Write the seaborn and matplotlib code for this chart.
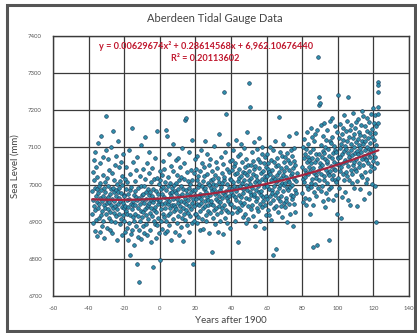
import numpy as np
import pandas as pd
import seaborn as sns
import matplotlib
matplotlib.use("Agg")
import matplotlib.pyplot as plt
from matplotlib.patches import Rectangle

# ---------------- data ----------------
title = "Aberdeen Tidal Gauge Data"
x_label = "Years after 1900"
y_label = "Sea Level (mm)"
x_ticks = [-60, -40, -20, 0, 20, 40, 60, 80, 100, 120, 140]
y_ticks = [6700, 6800, 6900, 7000, 7100, 7200, 7300, 7400]
trend_coef = [0.00629674, 0.28614568, 6962.10676440]
trend_range = [-38, 122.8]
eq_text = "y = 0.00629674x² + 0.28614568x + 6,962.10676440"
r2_text = "R² = 0.20113602"
samples_per_year = 6

# sea level readings (mm), 6 per year, each list starts at the given year after 1900
start_a = -38
level_a = [6982, 6921, 7034, 6958, 6897, 7065, 6943, 7012, 6876, 6990, 7088, 6931,
           6968, 6905, 7046, 6989, 6862, 6954, 7021, 6938, 6977, 7112, 6910, 6996,
           6948, 6873, 7003, 6965, 7057, 6917, 6985, 7131, 6929, 6957, 6889, 7026,
           6970, 6902, 7074, 6944, 6991, 6856, 7008, 6937, 6979, 7092, 6920, 6962,
           7185, 6951, 6884, 7019, 6967, 6933, 6996, 7068, 6911, 6953, 7040, 6879,
           6974, 6926, 7101, 6988, 6945, 6902, 7031, 6960, 6869, 6992, 7145, 6938,
           6957, 7013, 6924, 6981, 6898, 7054, 6942, 6986, 7077, 6915, 6968, 6850,
           7002, 6934, 6979, 7118, 6947, 6990, 6921, 7046, 6963, 6893, 7009, 6955,
           6976, 6907, 7062, 6940, 6864, 6999, 7024, 6951, 6917, 7083, 6972, 6936]
start_b = -20
level_b = [6968, 6903, 7015, 6941, 6872, 6989, 6930, 7047, 6958, 6884, 7006, 6922,
           6975, 6851, 6940, 7093, 6961, 6897, 6810, 6986, 6919, 7028, 6947, 6868,
           6993, 6935, 6877, 7152, 6956, 6912, 6944, 7061, 6901, 6972, 6838, 7010,
           6921, 6984, 6946, 7039, 6889, 6967, 6785, 6958, 7073, 6915, 6992, 6860,
           6937, 6879, 6739, 6963, 7022, 6948, 6901, 6996, 6930, 6854, 7107, 6971,
           6958, 6913, 7042, 6888, 6975, 6926, 6997, 6869, 6951, 7016, 6934, 7128,
           6918, 6979, 6893, 6962, 7058, 6940, 6864, 6987, 6945, 6906, 7031, 6973,
           6950, 7089, 6924, 6981, 6877, 6959, 6936, 7007, 6845, 6968, 6915, 7045,
           6988, 6777, 6953, 6932, 7014, 6901, 6962, 6895, 7071, 6940, 6983, 6857,
           6926, 7019, 6960, 6890, 7143, 6947, 6975, 6911, 7002, 6869, 6955, 7036]
start_c = 0
level_c = [6958, 6796, 7012, 6934, 6989, 6903, 7027, 6948, 6881, 6975, 7064, 6920,
           6993, 6912, 6966, 7041, 6870, 6951, 6937, 7008, 7146, 6985, 6901, 7132,
           6962, 6875, 7020, 6947, 6996, 6918, 7083, 6956, 6891, 7004, 6938, 6978,
           6924, 7051, 6969, 6852, 6991, 6944, 6981, 6907, 7036, 6960, 7110, 6929,
           6946, 6998, 6871, 6983, 6940, 7065, 7003, 6934, 6977, 6896, 7026, 6962,
           6915, 7072, 6950, 6988, 6863, 7012, 6970, 6928, 7047, 6941, 6995, 6887,
           7021, 6957, 6909, 7098, 6974, 6936, 6989, 6848, 7015, 6952, 6921, 7058,
           7173, 6963, 6904, 7179, 6986, 6931, 6947, 7034, 6975, 6892, 7009, 6958,
           6924, 6990, 7087, 6943, 6871, 7002, 6968, 6915, 7040, 6979, 6933, 7121,
           6896, 7011, 6951, 6985, 6785, 6960, 7030, 6942, 6903, 7068, 6972, 6920]
start_d = 20
level_d = [6985, 6921, 7043, 6960, 6897, 7012, 6948, 7076, 6993, 6912, 7024, 6966,
           7001, 6944, 6878, 7037, 6975, 6929, 6962, 7094, 6950, 6996, 6906, 7058,
           6937, 7010, 6972, 6881, 7046, 6988, 7023, 6955, 7117, 6941, 6990, 6917,
           6979, 6902, 7029, 6966, 7081, 6945, 6930, 7004, 6958, 6869, 6998, 7052,
           7068, 6971, 6923, 7012, 6947, 6990, 6955, 6818, 7036, 6982, 6910, 7002,
           7015, 6946, 6989, 7103, 6931, 6974, 6893, 7027, 6960, 6999, 7062, 6938,
           6981, 6920, 7045, 6957, 6873, 7019, 7137, 6968, 6941, 7008, 6985, 6902,
           6952, 7073, 6994, 6926, 7030, 6963, 7005, 6938, 6866, 7056, 6977, 7011,
           6944, 7020, 7250, 6971, 6909, 7087, 7190, 6983, 6932, 7041, 6964, 6897,
           7002, 6956, 7109, 6927, 6991, 7035, 6969, 6883, 7016, 6948, 7064, 6980]
start_e = 40
level_e = [7012, 6948, 7065, 6987, 6923, 7038, 6971, 7094, 7006, 6940, 7049, 6995,
           7028, 6966, 6901, 7057, 6984, 7120, 6958, 7031, 6990, 6927, 7076, 7009,
           6938, 6845, 7017, 6972, 7043, 6953, 7082, 6996, 6931, 7024, 6967, 7108,
           7004, 6945, 7061, 6989, 6912, 7035, 6976, 7098, 7013, 6950, 7047, 6921,
           7030, 6964, 6897, 7070, 6998, 7141, 6985, 7027, 6941, 7052, 6908, 7011,
           6960, 7274, 7036, 7209, 6979, 7002, 7054, 6933, 7018, 6971, 7089, 6944,
           6992, 7063, 6916, 7029, 6968, 7115, 7041, 6975, 7007, 6889, 7050, 6986,
           6955, 7022, 7097, 6937, 7013, 6963, 7070, 6997, 6928, 7045, 6981, 7126,
           7008, 6949, 7060, 6901, 7031, 6973, 6984, 7082, 6940, 7016, 7101, 6957,
           7037, 6966, 6882, 7059, 6994, 7023, 6945, 7075, 7012, 6969, 6918, 7048]
start_f = 60
level_f = [7024, 6962, 7081, 6996, 7043, 6931, 7058, 6988, 6917, 7035, 7102, 6970,
           6951, 7029, 7066, 6904, 7012, 6985, 7040, 6978, 6810, 7093, 6959, 7021,
           6997, 7060, 6936, 7015, 6972, 7118, 6943, 7006, 6826, 7049, 6980, 7027,
           7071, 6964, 7012, 6925, 7054, 6991, 7181, 7033, 6955, 7088, 6999, 6942,
           7019, 6968, 7045, 6913, 7076, 7003, 6982, 7110, 7027, 6951, 6998, 7062,
           7036, 6939, 7004, 7073, 6965, 7020, 6957, 7047, 6990, 6898, 7085, 7012,
           7066, 6986, 7131, 7008, 6948, 7039, 6994, 7057, 6921, 7025, 6973, 7092,
           7031, 6960, 7077, 6999, 6889, 7044, 6970, 7098, 7016, 6947, 7063, 6985,
           7052, 6926, 7009, 7140, 6978, 7030]
start_g = 80
level_g = [7046, 6978, 7102, 7015, 6952, 7071, 7008, 7124, 7039, 6965, 7083, 7020,
           7097, 7031, 6944, 7060, 7142, 6996, 7029, 7075, 6987, 7110, 7048, 6961,
           7066, 6920, 7037, 7089, 7004, 7153, 6993, 7058, 7127, 7014, 7072, 6946,
           6832, 7044, 7095, 6979, 7030, 7116, 7061, 7002, 7137, 7025, 6968, 7083,
           7019, 6837, 7070, 7148, 7036, 6990, 7343, 7236, 7081, 7214, 7012, 7059,
           7220, 7046, 6983, 7107, 7029, 7160, 7074, 6997, 7052, 7131, 6955, 7090,
           7011, 7085, 7166, 7023, 7068, 6940, 7102, 7040, 6976, 7119, 7057, 7004,
           7063, 7147, 7031, 6962, 7095, 7027, 6988, 6851, 7078, 7118, 7036, 7170,
           7050, 7112, 6994, 7071, 7180, 7016, 7129, 7027, 7085, 6958, 7061, 7104,
           7043, 7158, 7012, 7093, 7038, 6971, 7087, 7006, 7142, 7055, 6922, 7075]
start_h = 100
level_h = [7071, 7242, 7018, 7126, 7055, 6990, 7098, 7037, 7164, 7073, 6910, 7110,
           7046, 7135, 7082, 6967, 7120, 7059, 7153, 7029, 7091, 7012, 7187, 7066,
           7104, 6980, 7062, 7143, 7035, 7097, 7022, 7118, 7171, 7050, 7084, 6958,
           7236, 7075, 7011, 7129, 7067, 7146, 6946, 7093, 7160, 7039, 7108, 7028,
           7079, 7005, 7125, 7194, 7054, 7101, 7137, 7061, 6991, 7086, 7152, 7043,
           7070, 7168, 7036, 7115, 6943, 7090, 7010, 7124, 7083, 7176, 7048, 7106,
           7142, 7057, 6989, 7098, 7133, 7025, 7087, 7160, 7069, 7021, 7117, 7198,
           7052, 7109, 7185, 7076, 6962, 7131, 7118, 7033, 7092, 7157, 7070, 7004,
           7066, 7143, 7015, 7102, 7178, 7081, 7125, 7058, 7169, 6978, 7096, 7140,
           7037, 7111, 7074, 7190, 7049, 7093, 7150, 7001, 7128, 7063, 7206, 7085,
           7097, 7165, 7044, 7119, 6995, 7138, 7074, 7186, 6900, 7107, 7159, 7058]
start_end = 122.6
level_end = [7277, 7267, 7250, 7210, 7190, 7165]

segments = [(start_a, level_a), (start_b, level_b), (start_c, level_c),
            (start_d, level_d), (start_e, level_e), (start_f, level_f),
            (start_g, level_g), (start_h, level_h)]

frames = []
for start, vals in segments:
    t = start + np.arange(len(vals)) / samples_per_year
    frames.append(pd.DataFrame({"year": t, "level": vals}))
frames.append(pd.DataFrame({"year": [start_end] * len(level_end), "level": level_end}))
df = pd.concat(frames, ignore_index=True)

# ---------------- plot ----------------
sns.set_theme(style="white")
plt.rcParams["font.family"] = ["Lato", "DejaVu Sans"]

W, H = 417, 333
fig = plt.figure(figsize=(W / 100, H / 100), dpi=100)
ax = fig.add_axes([53 / W, 37 / H, 356 / W, 260 / H])

sns.scatterplot(data=df, x="year", y="level", ax=ax, marker="o", s=7,
                color="#2f8fab", edgecolor="#1b3d5e", linewidth=0.45,
                zorder=3, legend=False)

tx = np.linspace(trend_range[0], trend_range[1], 200)
trend = pd.DataFrame({"year": tx, "level": np.polyval(trend_coef, tx)})
sns.lineplot(data=trend, x="year", y="level", ax=ax, color="#a3243e",
             linewidth=1.6, zorder=4)

ax.set_xlim(-60, 140)
ax.set_ylim(6700, 7400)
ax.set_xticks(x_ticks)
ax.set_yticks(y_ticks)
ax.set_xticklabels([str(v) for v in x_ticks])
ax.set_yticklabels([str(v) for v in y_ticks])
ax.tick_params(axis="x", labelsize=4.3, colors="#555555", length=0, pad=7)
ax.tick_params(axis="y", labelsize=4.3, colors="#555555", length=0, pad=8)
ax.grid(True, color="#3a3a3a", linewidth=0.9, zorder=0)
ax.set_axisbelow(True)
for sp in ax.spines.values():
    sp.set_color("#3a3a3a")
    sp.set_linewidth(1.0)

ax.set_xlabel(x_label, fontsize=7, color="#444444", labelpad=4)
ax.set_ylabel(y_label, fontsize=7, color="#444444", labelpad=6)

fig.text(215 / W, 1 - 18 / H, title, ha="center", va="center",
         fontsize=8, color="#444444")
ax.text(0.43, 0.962, eq_text, transform=ax.transAxes, ha="center", va="center",
        fontsize=6.6, color="#c0182e", fontweight="bold", zorder=5)
ax.text(0.427, 0.915, r2_text, transform=ax.transAxes, ha="center", va="center",
        fontsize=6.6, color="#c0182e", fontweight="bold", zorder=5)

fig.patches.append(Rectangle((7 / W, 2 / H), 408 / W, 326 / H,
                             transform=fig.transFigure, fill=False,
                             edgecolor="#555555", linewidth=2.2))

fig.savefig("out.png", dpi=100)
